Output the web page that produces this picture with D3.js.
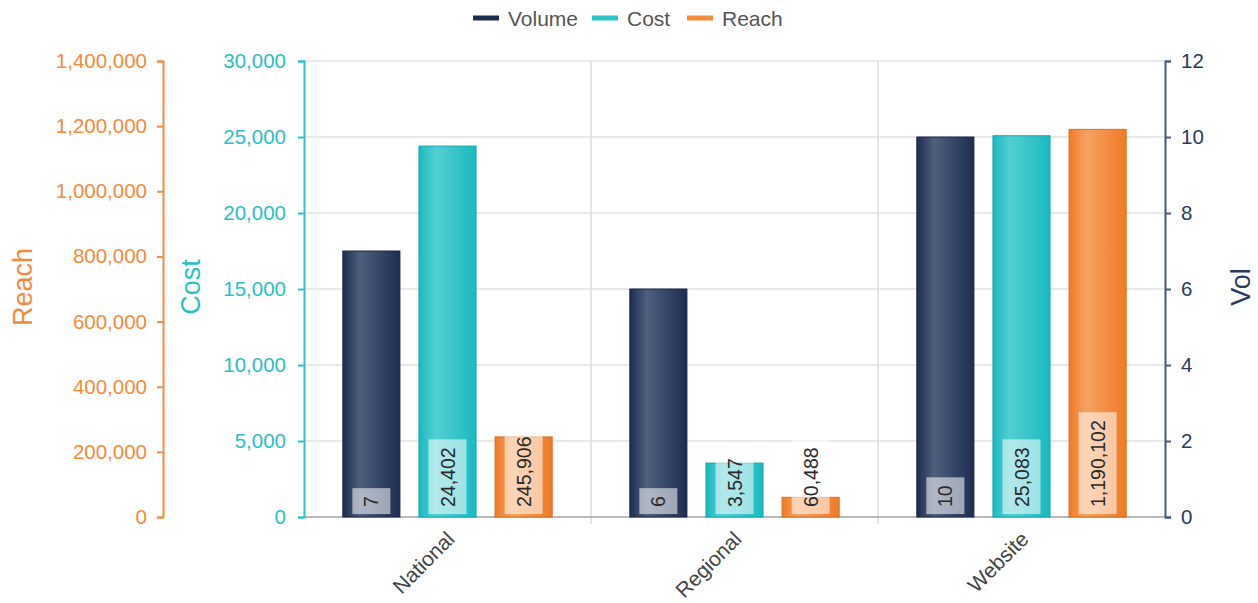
<!DOCTYPE html>
<html>
<head>
<meta charset="utf-8">
<script src="https://cdn.jsdelivr.net/npm/d3@7"></script>
<style>
  body { margin: 0; background: #fff; }
  svg { font-family: "Liberation Sans", Arial, sans-serif; }
</style>
</head>
<body>
<svg id="chart"></svg>
<script>
let categories = ['National', 'Regional', 'Website']
let seriesNames = ['Volume', 'Cost', 'Reach']
let volumeValues = [7, 6, 10]
let costValues = [24402, 3547, 25083]
let reachValues = [245906, 60488, 1190102]
let volumeTicks = [0, 2, 4, 6, 8, 10, 12]
let costTicks = [0, 5000, 10000, 15000, 20000, 25000, 30000]
let reachTicks = [0, 200000, 400000, 600000, 800000, 1000000, 1200000, 1400000]

let width = 1258
let height = 603
let plotLeft = 304
let plotRight = 1165
let plotTop = 61
let plotBottom = 517

let svg = d3.select('#chart').attr('width', width).attr('height', height)

let colors = {
    Volume: {base: '#1d2d50', light: '#4f5f7d', axis: '#4b5a7a', text: '#2c3a5c', legend: '#1d2d50'},
    Cost: {base: '#1ab9bf', light: '#52cfd3', axis: '#2cc2c7', text: '#2bbfc4', legend: '#2cc2c7'},
    Reach: {base: '#ef7a26', light: '#f6a262', axis: '#f58b3e', text: '#f58a3c', legend: '#f58b3e'}
}

let xScale = d3.scaleBand().domain(categories).range([plotLeft, plotRight])
let innerScale = d3.scaleBand().domain(seriesNames)
    .range([0, xScale.bandwidth()]).paddingInner(0.25).paddingOuter(0.51)

let volScale = d3.scaleLinear().domain([0, 12]).range([plotBottom, plotTop])
let costScale = d3.scaleLinear().domain([0, 30000]).range([plotBottom, plotTop])
let reachScale = d3.scaleLinear().domain([0, 1400000]).range([plotBottom, plotTop])

let scales = {Volume: volScale, Cost: costScale, Reach: reachScale}
let values = {Volume: volumeValues, Cost: costValues, Reach: reachValues}

// gradients
let defs = svg.append('defs')
seriesNames.forEach((s) => {
    let g = defs.append('linearGradient').attr('id', 'grad-' + s)
        .attr('x1', '0%').attr('x2', '100%').attr('y1', '0%').attr('y2', '0%')
    g.append('stop').attr('offset', '0%').attr('stop-color', colors[s].base)
    g.append('stop').attr('offset', '30%').attr('stop-color', colors[s].light)
    g.append('stop').attr('offset', '100%').attr('stop-color', colors[s].base)
})

// gridlines
svg.append('g').selectAll('line')
   .data(costTicks)
   .enter()
   .append('line')
   .attr('x1', plotLeft).attr('x2', plotRight)
   .attr('y1', (d) => costScale(d)).attr('y2', (d) => costScale(d))
   .attr('stroke', '#e2e2e2').attr('stroke-width', 1.5)

svg.append('g').selectAll('line')
   .data(categories.slice(1))
   .enter()
   .append('line')
   .attr('x1', (d) => xScale(d)).attr('x2', (d) => xScale(d))
   .attr('y1', plotTop).attr('y2', plotBottom + 7)
   .attr('stroke', '#dcdcdc').attr('stroke-width', 1.5)

// bottom axis line
svg.append('line')
   .attr('x1', plotLeft).attr('x2', plotRight).attr('y1', plotBottom).attr('y2', plotBottom)
   .attr('stroke', '#a8a8a8').attr('stroke-width', 1.5)

// bars
let rows = []
categories.forEach((c, i) => {
    seriesNames.forEach((s) => {
        rows.push({cat: c, series: s, value: values[s][i]})
    })
})

let barW = innerScale.bandwidth()

svg.append('g').selectAll('rect')
   .data(rows)
   .enter()
   .append('rect')
   .attr('x', (d) => xScale(d.cat) + innerScale(d.series))
   .attr('y', (d) => scales[d.series](d.value))
   .attr('width', barW)
   .attr('height', (d) => plotBottom - scales[d.series](d.value))
   .attr('fill', (d) => 'url(#grad-' + d.series + ')')
   .attr('stroke', (d) => d3.color(colors[d.series].base).darker(0.3))
   .attr('stroke-width', 1)

// data labels
let labels = svg.append('g').selectAll('g')
   .data(rows)
   .enter()
   .append('g')
   .attr('transform', (d) => 'translate(' + (xScale(d.cat) + innerScale(d.series) + barW / 2) + ',' + (plotBottom - 10) + ') rotate(-90)')

labels.append('rect')
labels.append('text')
   .text((d) => d3.format(',')(d.value))
   .attr('x', 0)
   .attr('y', 0)
   .attr('dy', '0.36em')
   .attr('font-size', 19.5)
   .attr('fill', '#2a2a2a')

labels.each(function () {
    let g = d3.select(this)
    let len = g.select('text').node().getComputedTextLength()
    g.select('rect')
     .attr('x', -7).attr('y', -19)
     .attr('width', len + 15).attr('height', 38)
     .attr('fill', '#fff').attr('fill-opacity', 0.55)
})

// axes
let reachAxis = d3.axisLeft(reachScale).tickValues(reachTicks).tickSize(6).tickPadding(10).tickFormat(d3.format(','))
let costAxis = d3.axisLeft(costScale).tickValues(costTicks).tickSize(6).tickPadding(12).tickFormat(d3.format(','))
let volAxis = d3.axisRight(volScale).tickValues(volumeTicks).tickSize(6).tickPadding(10)

let styleAxis = (g, c) => {
    g.select('.domain').attr('stroke', c.axis).attr('stroke-width', 2)
    g.selectAll('.tick line').attr('stroke', c.axis).attr('stroke-width', 2)
    g.selectAll('.tick text').attr('fill', c.text).attr('font-size', 20.5)
        .attr('font-family', '"Liberation Sans", Arial, sans-serif')
}

svg.append('g').attr('transform', 'translate(163,0)').call(reachAxis).call((g) => styleAxis(g, colors.Reach))
svg.append('g').attr('transform', 'translate(' + plotLeft + ',0)').call(costAxis).call((g) => styleAxis(g, colors.Cost))
svg.append('g').attr('transform', 'translate(' + plotRight + ',0)').call(volAxis).call((g) => styleAxis(g, colors.Volume))

// axis titles
let titles = [
    {text: 'Reach', x: 22, color: colors.Reach.text},
    {text: 'Cost', x: 190, color: colors.Cost.text},
    {text: 'Vol', x: 1240, color: colors.Volume.text}
]
svg.append('g').selectAll('text')
   .data(titles)
   .enter()
   .append('text')
   .text((d) => d.text)
   .attr('transform', (d) => 'translate(' + d.x + ',287) rotate(-90)')
   .attr('text-anchor', 'middle')
   .attr('dy', '0.36em')
   .attr('font-size', 27)
   .attr('fill', (d) => d.color)

// category labels
svg.append('g').selectAll('text')
   .data(categories)
   .enter()
   .append('text')
   .text((d) => d)
   .attr('transform', (d) => 'translate(' + (xScale(d) + xScale.bandwidth() / 2 - 2) + ',' + (plotBottom + 13) + ') rotate(-45)')
   .attr('text-anchor', 'end')
   .attr('dy', '0.7em')
   .attr('font-size', 21)
   .attr('fill', '#444')

// legend
let legendX = [473, 592, 687]
let legend = svg.append('g').selectAll('g')
   .data(seriesNames)
   .enter()
   .append('g')
   .attr('transform', (d, i) => 'translate(' + legendX[i] + ',18)')

legend.append('line')
   .attr('x1', 0).attr('x2', 26).attr('y1', 0).attr('y2', 0)
   .attr('stroke', (d) => colors[d].legend)
   .attr('stroke-width', 5)

legend.append('text')
   .text((d) => d)
   .attr('x', 35)
   .attr('dy', '0.36em')
   .attr('font-size', 21)
   .attr('fill', '#555')
</script>
</body>
</html>
